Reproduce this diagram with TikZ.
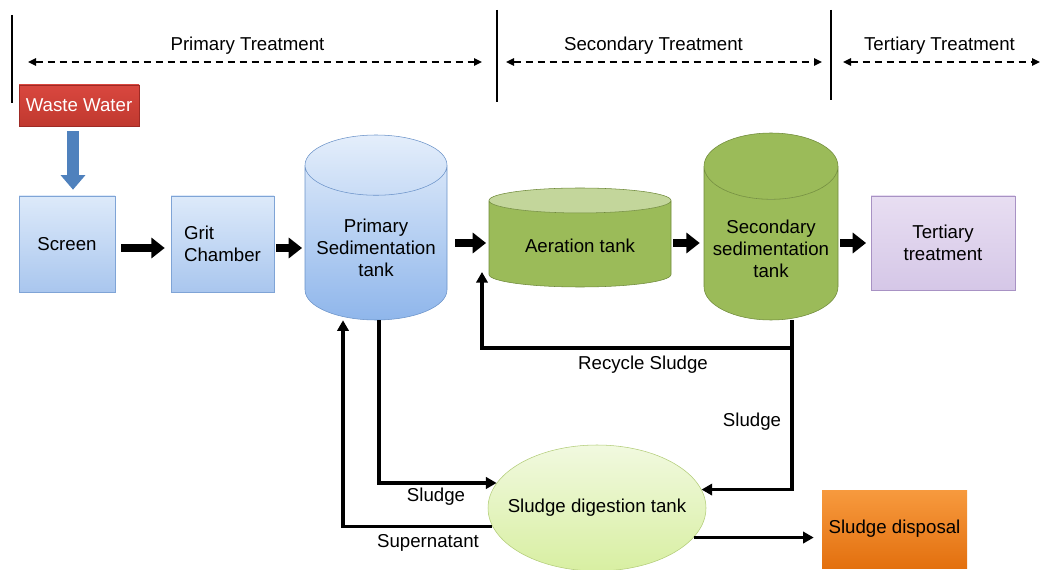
\documentclass[tikz,border=0pt]{standalone}
\usepackage{fontspec}
\setmainfont{Liberation Sans}
\usetikzlibrary{shapes.geometric,arrows.meta,calc}

\definecolor{wwred}{HTML}{C0392F}
\definecolor{wwredtop}{HTML}{D9473F}
\definecolor{wwedge}{HTML}{9E2A25}
\definecolor{boxtop}{HTML}{DDEAFA}
\definecolor{boxbot}{HTML}{A9C6EE}
\definecolor{boxedge}{HTML}{7FA4D6}
\definecolor{pipeblue}{HTML}{4F81BD}
\definecolor{tanktop}{HTML}{E4EEFB}
\definecolor{tankbot}{HTML}{8FB6EB}
\definecolor{tankedge}{HTML}{6A92C8}
\definecolor{olive}{HTML}{9BBB59}
\definecolor{olivetop}{HTML}{C3D69B}
\definecolor{oliveedge}{HTML}{6F8A3A}
\definecolor{lilac}{HTML}{E8DEF2}
\definecolor{lilacbot}{HTML}{D5C7E7}
\definecolor{lilacedge}{HTML}{A892C4}
\definecolor{digtop}{HTML}{F1F9DF}
\definecolor{digbot}{HTML}{D8EFA2}
\definecolor{digedge}{HTML}{B2CC78}
\definecolor{orgtop}{HTML}{F79A3E}
\definecolor{orgbot}{HTML}{E3700F}

\tikzset{
  lbl/.style={font=\fontsize{14}{16.5}\selectfont},
  unit/.style={rectangle, draw=boxedge, top color=boxtop, bottom color=boxbot,
    minimum width=72pt, minimum height=72pt, align=center, lbl},
  source/.style={rectangle, draw=wwedge, top color=wwredtop, bottom color=wwred,
    text=white, minimum width=90pt, minimum height=30.75pt, lbl},
  tank/.style={cylinder, shape border rotate=90, anchor=shape center, align=center, lbl},
  fat/.style={line width=6.5pt, -{Triangle[length=10pt,width=15pt]}},
  flow/.style={line width=2.4pt, -{Triangle[length=8pt,width=8.5pt]}},
  phase/.style={line width=1.4pt, dash pattern=on 5.5pt off 3.5pt,
    {Triangle[length=6pt,width=5.5pt]}-{Triangle[length=6pt,width=5.5pt]}},
  sep/.style={line width=1.6pt}
}

\begin{document}
\begin{tikzpicture}[x=0.75pt,y=-0.75pt]
  \useasboundingbox (0,0) rectangle (1042,570);

  % treatment stages
  \coordinate (s1t) at (12,15);  \coordinate (s1b) at (12,103);
  \coordinate (s2t) at (497,10); \coordinate (s2b) at (497,102);
  \coordinate (s3t) at (831,10); \coordinate (s3b) at (831,100);
  \draw[sep] (s1t) -- (s1b);
  \draw[sep] (s2t) -- (s2b);
  \draw[sep] (s3t) -- (s3b);

  \coordinate (pa) at (28,62);  \coordinate (pb) at (482,62);
  \coordinate (sa) at (506,62); \coordinate (sb) at (822,62);
  \coordinate (ta) at (843,62); \coordinate (tb) at (1040,62);
  \draw[phase] (pa) -- (pb);
  \draw[phase] (sa) -- (sb);
  \draw[phase] (ta) -- (tb);
  \node[lbl] (prim) at (247.5,46) {Primary Treatment};
  \node[lbl] (sec) at (653.5,46) {Secondary Treatment};
  \node[lbl] (ter) at (939.5,46) {Tertiary Treatment};

  % units
  \node[source] (ww) at (79,105.5) {Waste Water};
  \node[unit] (screen) at (67,244) {Screen};
  \node[unit, minimum width=77.25pt, align=left] (grit) at (222.5,244) {Grit\\Chamber};
  \node[tank, draw=tankedge, top color=tanktop, bottom color=tankbot,
    minimum width=106.5pt, minimum height=138.75pt, aspect=0.47] (ptank) at (376,227.5)
    {Primary\\Sedimentation\\tank};
  \node[tank, draw=oliveedge, cylinder uses custom fill, cylinder body fill=olive,
    cylinder end fill=olivetop, minimum width=136.5pt, minimum height=74.25pt,
    aspect=0.21] (atank) at (580,237.5) {Aeration tank};
  \node[tank, draw=oliveedge, cylinder uses custom fill, cylinder body fill=olive,
    cylinder end fill=olive, minimum width=100.5pt, minimum height=140.25pt,
    aspect=0.53] (stank) at (771,226.5) {Secondary\\sedimentation\\tank};
  \node[rectangle, draw=lilacedge, top color=lilac, bottom color=lilacbot,
    minimum width=108pt, minimum height=70.5pt, align=center, lbl] (tert) at (943,243)
    {Tertiary\\treatment};
  \node[ellipse, draw=digedge, top color=digtop, bottom color=digbot, inner sep=0pt,
    minimum width=163.5pt, minimum height=94.5pt, lbl] (digest) at (597,508)
    {\makebox[0pt]{Sludge digestion tank}};
  \node[rectangle, top color=orgtop, bottom color=orgbot,
    minimum width=108.75pt, minimum height=58.5pt, lbl] (disp) at (894.5,529)
    {Sludge disposal};

  % main flow
  \draw[line width=9pt, pipeblue, shorten <=3.75pt, shorten >=4.5pt,
    -{Triangle[length=11pt,width=18pt]}] (ww.south -| 73,0) -- (screen.north -| 73,0);
  \draw[fat, shorten <=4.5pt, shorten >=4.5pt] (screen.east |- 0,248) -- (grit.west |- 0,248);
  \draw[fat, shorten <=1.5pt, shorten >=2pt] (grit.east |- 0,248) -- (ptank.west |- 0,248);
  \draw[fat, shorten <=6pt, shorten >=2pt] (ptank.east |- 0,243) -- (atank.west |- 0,243);
  \draw[fat, shorten <=1.5pt, shorten >=3pt] (atank.east |- 0,243) -- (stank.west |- 0,243);
  \draw[fat, shorten <=1.5pt, shorten >=3.5pt] (stank.east |- 0,243) -- (tert.west |- 0,243);

  % sludge lines
  \coordinate (rin) at (482,272);
  \coordinate (split) at (792,348);
  \draw[flow] (stank.south -| split) -- (split) -| (rin);
  \draw[flow] (split) |- (digest.10);
  \draw[flow] (ptank.south -| 379,0) |- (digest.166);
  \draw[flow] (digest.190) -| (ptank.south -| 343,0);
  \draw[flow, shorten >=6pt] (digest.-17) -- (digest.-17 -| disp.west);

  \node[lbl] (rlbl) at (643,365) {Recycle Sludge};
  \node[lbl] (slbl) at (752,422) {Sludge};
  \node[lbl] (plbl) at (436,497) {Sludge};
  \node[lbl] (suplbl) at (428,543) {Supernatant};
\end{tikzpicture}
\end{document}
